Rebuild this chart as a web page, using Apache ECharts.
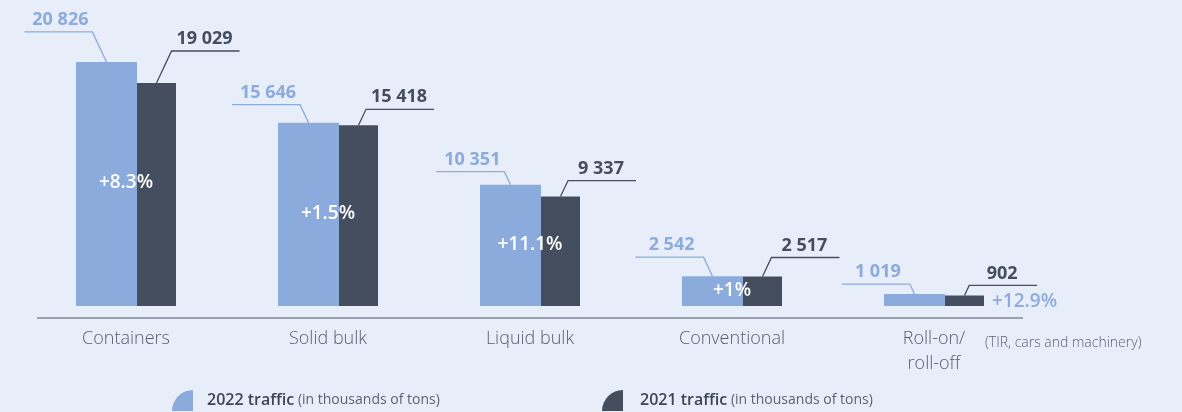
<!DOCTYPE html>
<html>
<head>
<meta charset="utf-8">
<script src="https://cdn.jsdelivr.net/npm/echarts@6/dist/echarts.min.js"></script>
<style>
  html, body { margin: 0; padding: 0; background: #e8eef9; }
  #chart { width: 1182px; height: 412px; }
</style>
</head>
<body>
<div id="chart"></div>
<script>
var categories = ['Containers', 'Solid bulk', 'Liquid bulk', 'Conventional', 'Roll-on/\nroll-off'];
var traffic2022 = [20826, 15646, 10351, 2542, 1019];
var traffic2021 = [19029, 15418, 9337, 2517, 902];
var growth = ['+8.3%', '+1.5%', '+11.1%', '+1%', '+12.9%'];

// how high each value label sits above its bar (px)
var riseLight = [30, 18, 13, 19, 10];
var riseDark = [32, 16, 16, 19, 10];

var lightColor = '#8babdc';
var darkColor = '#444e5f';
var font = '"Open Sans", sans-serif';
var lightW = 61, darkW = 39;

function fmt(v) {
  return String(v).replace(/\B(?=(\d{3})+(?!\d))/g, ' ');
}

// leader lines, value labels and growth labels
function renderLabels(params, api) {
  var i = api.value(0);
  var base = api.coord([i, 0]);
  var cx = base[0], y0 = base[1];
  var total = lightW + darkW;
  var lx = cx - total / 2 + lightW / 2;
  var dx = cx - total / 2 + lightW + darkW / 2;
  var lTop = api.coord([i, api.value(1)])[1];
  var dTop = api.coord([i, api.value(2)])[1];
  var seg = 68;
  var rl = riseLight[i], rd = riseDark[i];
  var lKink = [lx - rl * 0.47, lTop - rl];
  var dKink = [dx + rd * 0.47, dTop - rd];
  var children = [
    {
      type: 'polyline',
      shape: { points: [[lx, lTop], lKink, [lKink[0] - seg, lKink[1]]] },
      style: { stroke: lightColor, lineWidth: 1.3, fill: null }
    },
    {
      type: 'text', x: lKink[0] - seg / 2 + 2, y: lKink[1] - 3,
      style: { text: fmt(api.value(1)), fill: lightColor, font: '700 18px ' + font, align: 'center', verticalAlign: 'bottom' }
    },
    {
      type: 'polyline',
      shape: { points: [[dx, dTop], dKink, [dKink[0] + seg, dKink[1]]] },
      style: { stroke: darkColor, lineWidth: 1.3, fill: null }
    },
    {
      type: 'text', x: dKink[0] + seg / 2 - 1, y: dKink[1] - 3,
      style: { text: fmt(api.value(2)), fill: darkColor, font: '700 18px ' + font, align: 'center', verticalAlign: 'bottom' }
    }
  ];
  var inside = y0 - lTop > 25;
  children.push({
    type: 'text',
    x: inside ? cx : cx + total / 2 + 8,
    y: inside ? (lTop + y0) / 2 - 1 : (lTop + y0) / 2 + 2,
    style: {
      text: growth[i], fill: inside ? '#ffffff' : lightColor, font: '600 19px ' + font,
      align: inside ? 'center' : 'left', verticalAlign: 'middle'
    }
  });
  return { type: 'group', children: children };
}

var chart = echarts.init(document.getElementById('chart'));
var option = {
  backgroundColor: '#e8eef9',
  animation: false,
  grid: { left: 25, right: 147, top: 13, bottom: 106 },
  xAxis: {
    type: 'category',
    data: categories,
    axisLine: { show: false },
    axisTick: { show: false },
    axisLabel: {
      margin: 20,
      color: '#575e6c',
      fontFamily: font,
      fontWeight: 300,
      fontSize: 18,
      lineHeight: 25
    }
  },
  yAxis: { type: 'value', min: 0, max: 25000, show: false },
  legend: [
    {
      data: ['2022'], left: 172, top: 390, padding: 0, itemWidth: 21, itemHeight: 21,
      icon: 'path://M0,21 A21,21 0 0 1 21,0 L21,21 Z',
      formatter: function () { return '{b|2022 traffic}{n| (in thousands of tons)}'; },
      textStyle: {
        rich: {
          b: { fontFamily: font, fontWeight: 600, fontSize: 16, color: '#3d4656', padding: [0, 0, 0, 9] },
          n: { fontFamily: font, fontSize: 14, color: '#5b6270' }
        }
      }
    },
    {
      data: ['2021'], left: 602, top: 390, padding: 0, itemWidth: 21, itemHeight: 21,
      icon: 'path://M0,21 A21,21 0 0 1 21,0 L21,21 Z',
      formatter: function () { return '{b|2021 traffic}{n| (in thousands of tons)}'; },
      textStyle: {
        rich: {
          b: { fontFamily: font, fontWeight: 600, fontSize: 16, color: '#3d4656', padding: [0, 0, 0, 12] },
          n: { fontFamily: font, fontSize: 14, color: '#5b6270' }
        }
      }
    }
  ],
  graphic: [
    { type: 'line', shape: { x1: 37, y1: 318, x2: 1023, y2: 318 }, style: { stroke: '#4b5567', lineWidth: 1.2 } },
    {
      type: 'text', x: 985, y: 343,
      style: { text: '(TIR, cars and machinery)', fill: '#5b6270', font: '300 14px ' + font, verticalAlign: 'middle' }
    }
  ],
  series: [
    {
      name: '2022', type: 'bar', data: traffic2022, barWidth: lightW, barGap: '0%',
      itemStyle: { color: lightColor }
    },
    {
      name: '2021', type: 'bar', data: traffic2021, barWidth: darkW, barGap: '0%',
      itemStyle: { color: darkColor }
    },
    {
      type: 'custom', z: 10, silent: true,
      renderItem: renderLabels,
      data: categories.map(function (c, i) { return [i, traffic2022[i], traffic2021[i]]; })
    }
  ]
};
chart.setOption(option);
</script>
</body>
</html>
